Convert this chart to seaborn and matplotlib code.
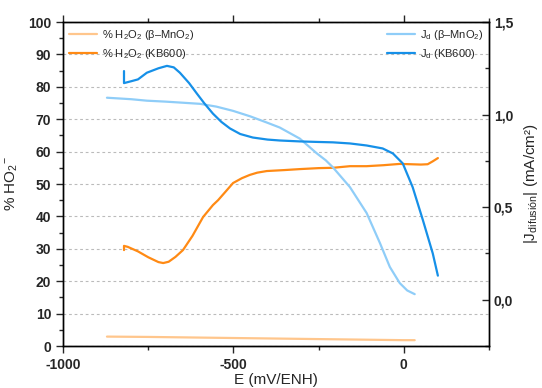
import matplotlib
matplotlib.use("Agg")
import matplotlib.pyplot as plt
import seaborn as sns
import pandas as pd
from matplotlib.ticker import MultipleLocator

# ---- data ----
# % H2O2 beta-MnO2 (left axis)
e_h2o2_mno2 = [-871, -750, -600, -450, -300, -150, 0, 32]
h2o2_mno2 = [2.9, 2.8, 2.6, 2.4, 2.2, 2.0, 1.8, 1.8]

# % H2O2 KB600 (left axis)
e_h2o2_kb = [-821, -821, -810, -780, -750, -720, -706, -690, -670, -648, -620, -589,
             -560, -545, -520, -501, -475, -452, -430, -402, -350, -305, -250, -208,
             -158, -109, -60, -12, 20, 50, 70, 85, 100]
h2o2_kb = [29.6, 30.9, 30.6, 29.2, 27.4, 25.9, 25.6, 26.0, 27.5, 29.6, 34.0, 39.8,
           43.5, 45.0, 48.0, 50.3, 51.8, 52.8, 53.5, 54.0, 54.3, 54.6, 54.9, 55.0,
           55.5, 55.5, 55.8, 56.2, 56.1, 56.0, 56.1, 57.0, 58.0]

# J_d beta-MnO2 (right axis)
e_j_mno2 = [-871, -800, -754, -700, -657, -598, -550, -501, -450, -402, -364, -305,
            -255, -229, -208, -158, -109, -70, -41, -12, 10, 32]
j_mno2 = [1.091, 1.083, 1.075, 1.070, 1.065, 1.058, 1.043, 1.020, 0.990, 0.957, 0.930,
          0.870, 0.790, 0.753, 0.715, 0.608, 0.468, 0.306, 0.177, 0.090, 0.050, 0.030]

# J_d KB600 (right axis)
e_j_kb = [-821, -821, -800, -780, -754, -720, -695, -675, -657, -630, -607, -585,
          -560, -535, -510, -480, -443, -400, -364, -305, -250, -208, -158, -109,
          -62, -32, -3, 26, 56, 85, 100]
j_kb = [1.235, 1.170, 1.180, 1.190, 1.226, 1.250, 1.263, 1.255, 1.226, 1.170, 1.113,
        1.060, 1.005, 0.960, 0.925, 0.895, 0.876, 0.865, 0.860, 0.855, 0.852, 0.850,
        0.844, 0.833, 0.817, 0.790, 0.736, 0.608, 0.430, 0.250, 0.130]

c_mno2_h = '#ffc68c'
c_kb_h = '#ff8a14'
c_mno2_j = '#8fcdf8'
c_kb_j = '#1690e8'

sns.set_theme(style='ticks')
plt.rcParams['font.family'] = ['Liberation Sans', 'DejaVu Sans']
plt.rcParams['mathtext.fontset'] = 'custom'
plt.rcParams['mathtext.rm'] = 'Liberation Sans'
plt.rcParams['mathtext.it'] = 'Liberation Sans:italic'
plt.rcParams['mathtext.bf'] = 'Liberation Sans:bold'
plt.rcParams['axes.unicode_minus'] = False

fig = plt.figure(figsize=(5.42, 3.88), dpi=100)
ax = fig.add_axes([63 / 542, 42 / 388, 426 / 542, 324 / 388])
ax2 = ax.twinx()

df1 = pd.DataFrame({'E': e_h2o2_mno2, 'y': h2o2_mno2})
df2 = pd.DataFrame({'E': e_h2o2_kb, 'y': h2o2_kb})
df3 = pd.DataFrame({'E': e_j_mno2, 'y': j_mno2})
df4 = pd.DataFrame({'E': e_j_kb, 'y': j_kb})

sns.lineplot(data=df1, x='E', y='y', sort=False, estimator=None, color=c_mno2_h, lw=1.6,
             ax=ax, label=r'% H$_\mathrm{2}$O$_\mathrm{2}$ (β–MnO$_\mathrm{2}$)')
sns.lineplot(data=df2, x='E', y='y', sort=False, estimator=None, color=c_kb_h, lw=1.6,
             ax=ax, label=r'% H$_\mathrm{2}$O$_\mathrm{2}$ (KB600)')
sns.lineplot(data=df3, x='E', y='y', sort=False, estimator=None, color=c_mno2_j, lw=1.6,
             ax=ax2, label=r'J$_\mathrm{d}$ (β–MnO$_\mathrm{2}$)')
sns.lineplot(data=df4, x='E', y='y', sort=False, estimator=None, color=c_kb_j, lw=1.6,
             ax=ax2, label=r'J$_\mathrm{d}$ (KB600)')

ax.set_xlim(-1000, 250)
ax.set_ylim(0, 100)
ax2.set_ylim(-0.25, 1.5)

ax.xaxis.set_major_locator(MultipleLocator(500))
ax.xaxis.set_minor_locator(MultipleLocator(250))
ax.yaxis.set_major_locator(MultipleLocator(10))
ax.yaxis.set_minor_locator(MultipleLocator(5))
ax2.yaxis.set_minor_locator(MultipleLocator(0.25))
ax2.set_yticks([0, 0.5, 1.0, 1.5])
ax2.set_yticklabels(['0,0', '0,5', '1,0', '1,5'])

ax.yaxis.grid(True, which='major', ls=(0, (2.5, 2.5)), color='#bbbbbb', lw=0.8)
ax.set_axisbelow(True)

for a in (ax, ax2):
    for s in a.spines.values():
        s.set_visible(True)
        s.set_linewidth(1.0)
        s.set_color('black')

ax.tick_params(axis='both', which='major', direction='out', length=5, width=1,
               labelsize=10, top=True)
ax.tick_params(axis='both', which='minor', direction='out', length=3, width=1, top=True)
ax2.tick_params(axis='y', which='major', direction='in', length=5, width=1, labelsize=10)
ax2.tick_params(axis='y', which='minor', direction='in', length=3, width=1)
for lab in ax.get_xticklabels() + ax.get_yticklabels() + ax2.get_yticklabels():
    lab.set_fontweight('bold')

ax.set_xlabel('E (mV/ENH)', fontsize=11, labelpad=1)
ax.set_ylabel(r'% HO$_\mathrm{2}$$^{-}$', fontsize=11, labelpad=6)
ax2.set_ylabel(r'|J$_\mathrm{difusión}$| (mA/cm²)', fontsize=11, labelpad=6)

ax.legend(loc='upper left', frameon=False, fontsize=8, handlelength=2.6,
          borderaxespad=0.1, labelspacing=0.5, handletextpad=0.4)
ax2.legend(loc='upper right', frameon=False, fontsize=8, handlelength=2.6,
           borderaxespad=0.1, labelspacing=0.5, handletextpad=0.4)

fig.savefig('out.png', dpi=100)
